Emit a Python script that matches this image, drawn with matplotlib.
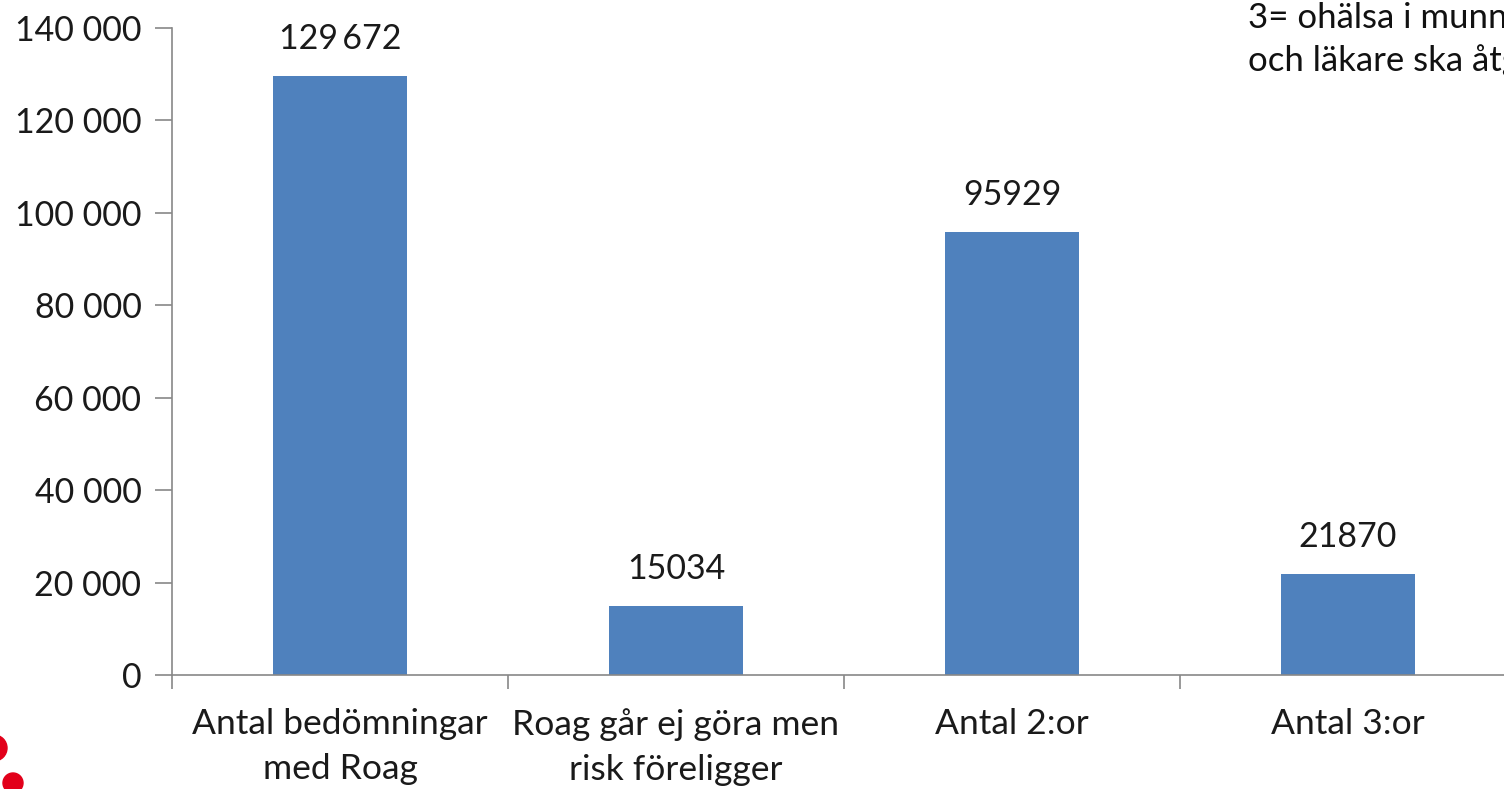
import matplotlib
matplotlib.use("Agg")
import matplotlib.pyplot as plt
from matplotlib.patches import Circle

categories = ["Antal bedömningar\nmed Roag", "Roag går ej göra men\nrisk föreligger", "Antal 2:or", "Antal 3:or"]
values = [129672, 15034, 95929, 21870]
value_labels = ["129\u2009672", "15034", "95929", "21870"]
ytick_vals = [0, 20000, 40000, 60000, 80000, 100000, 120000, 140000]
ytick_labels = ["0", "20 000", "40 000", "60 000", "80 000", "100 000", "120 000", "140 000"]
note_lines = ["3= ohälsa i munnen", "och läkare ska åtgärda"]

plt.rcParams['font.family'] = ['Lato', 'DejaVu Sans']

W, H = 1504, 789
fig = plt.figure(figsize=(W / 100, H / 100), dpi=100)
left, right, bottom, top = 172, 1516, 114, 761
ax = fig.add_axes([left / W, bottom / H, (right - left) / W, (top - bottom) / H])

x = list(range(len(categories)))
ax.bar(x, values, width=0.4, color="#4F81BD", zorder=2)
ax.set_xlim(-0.5, len(categories) - 0.5)
ax.set_ylim(0, 140000)

ax.set_yticks(ytick_vals)
ax.set_yticklabels(ytick_labels, fontsize=24.5, color="#1a1a1a")
ax.tick_params(axis='y', length=12, width=1.2, color="#888888", pad=10)

ax.set_xticks([i - 0.5 for i in x], minor=False)
ax.set_xticklabels([])
ax.tick_params(axis='x', which='major', length=10, width=1.2, color="#888888", direction='out')
ax.set_xticks(x, minor=True)
ax.set_xticklabels(categories, minor=True, fontsize=25.5, color="#1a1a1a", linespacing=1.5)
ax.tick_params(axis='x', which='minor', length=0, pad=24)

for s in ['top', 'right']:
    ax.spines[s].set_visible(False)
for s in ['left', 'bottom']:
    ax.spines[s].set_color("#888888")
    ax.spines[s].set_linewidth(1.2)

for xi, v, lab in zip(x, values, value_labels):
    ax.annotate(lab, (xi, v), xytext=(0, 15), textcoords='offset points',
                ha='center', va='bottom', fontsize=24.5, color="#1a1a1a")

fig.text(1248 / W, 1 - 18 / H, note_lines[0], fontsize=25, color="#111111", va='center', ha='left')
fig.text(1248 / W, 1 - 61 / H, note_lines[1], fontsize=25, color="#111111", va='center', ha='left')

fig.patches.append(Circle((-6 / 100, (H - 748) / 100), 13 / 100, transform=fig.dpi_scale_trans, color="#E2001A"))
fig.patches.append(Circle((13 / 100, (H - 783) / 100), 10 / 100, transform=fig.dpi_scale_trans, color="#E2001A"))

fig.savefig("out.png", dpi=100)
